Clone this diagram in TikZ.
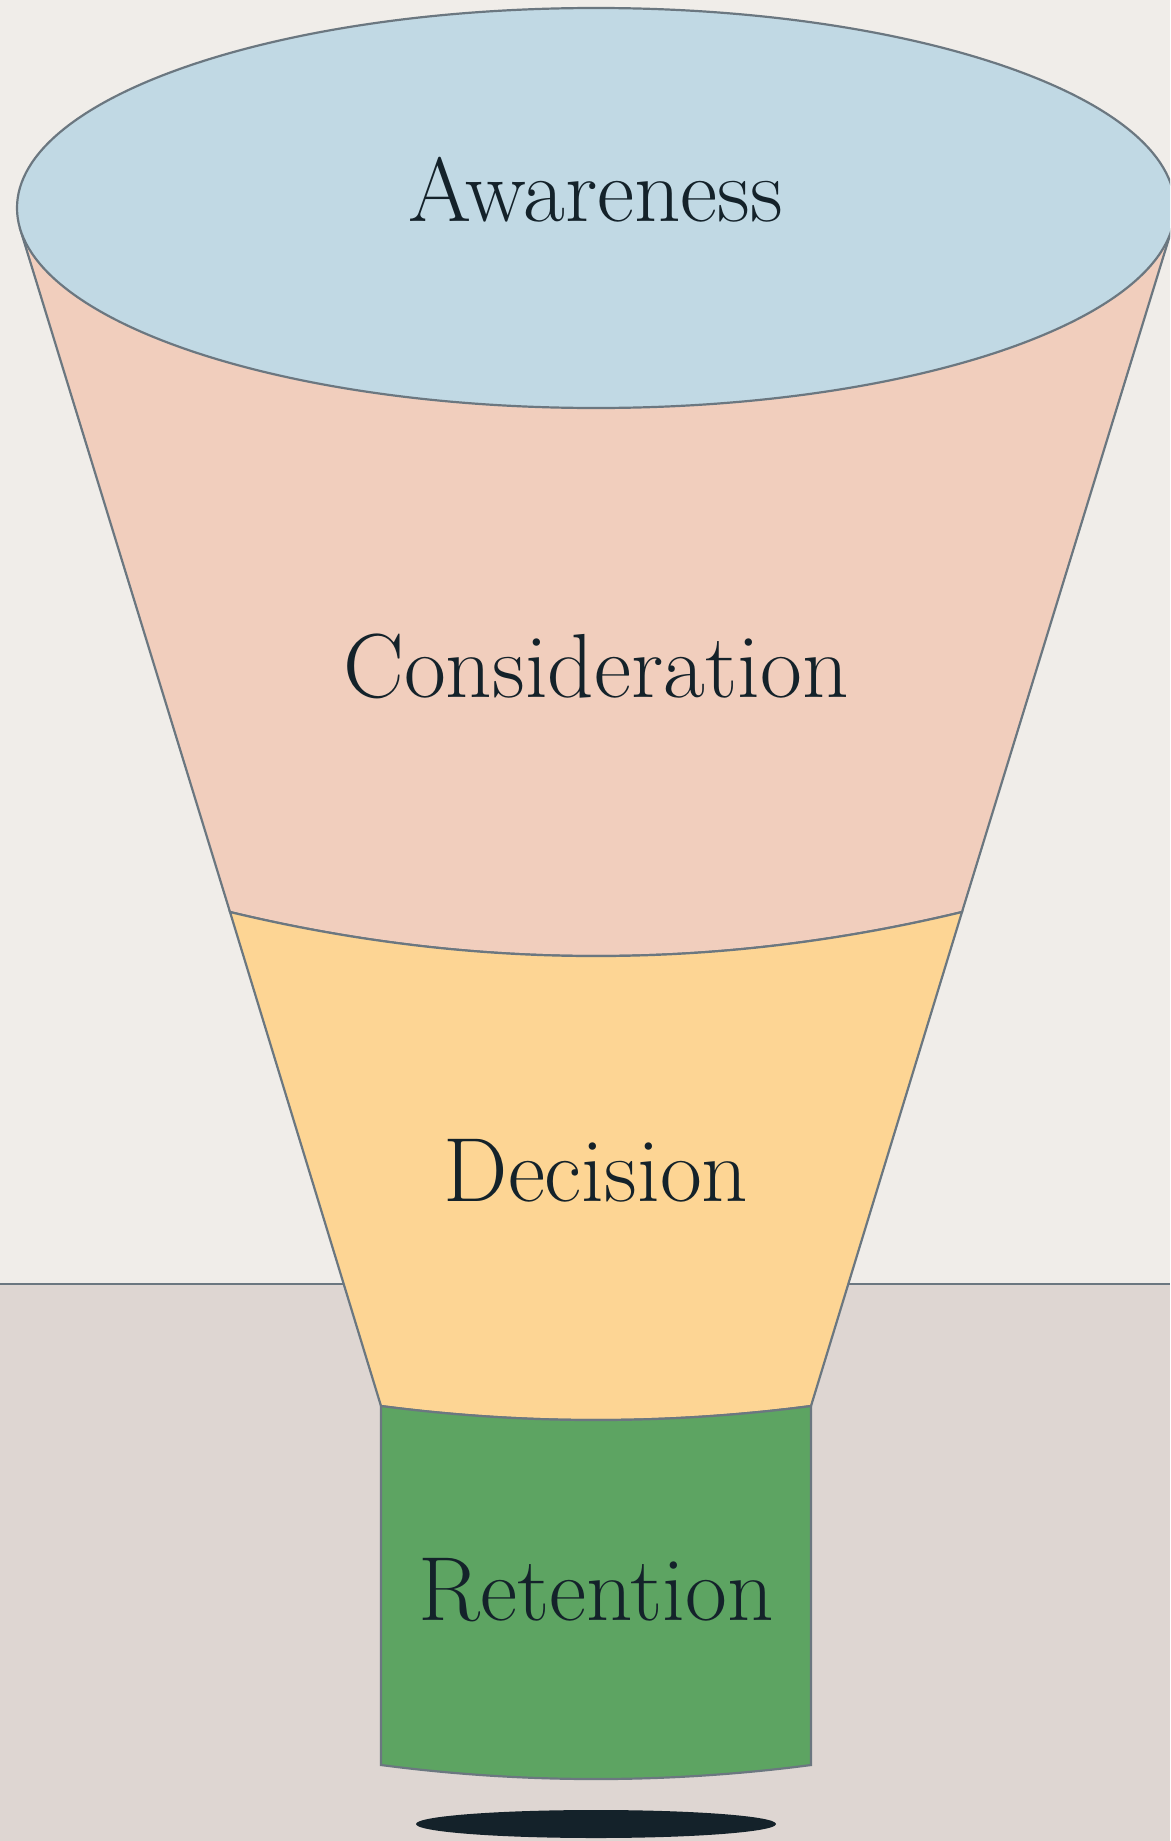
\documentclass[tikz,border=0pt]{standalone}
\usepackage{fontspec}
\definecolor{bgtop}{HTML}{F0EDE9}
\definecolor{bgbottom}{HTML}{DED6D2}
\definecolor{edge}{HTML}{6B7780}
\definecolor{awarefill}{HTML}{C1D9E4}
\definecolor{considfill}{HTML}{F1CEBD}
\definecolor{decisfill}{HTML}{FDD594}
\definecolor{retainfill}{HTML}{5DA462}
\definecolor{ink}{HTML}{14222A}
\begin{document}
\begin{tikzpicture}[x=1pt,y=-1pt,
  stage/.style={fill=#1,draw=edge,line width=2.2pt,line join=miter},
  label/.style={anchor=base,text=ink,inner sep=0pt,font=\fontsize{91}{91}\selectfont}]
\useasboundingbox (0,0) rectangle (1170,1841);
\clip (0,0) rectangle (1170,1841);
% backdrop: wall and floor
\fill[bgtop] (0,0) rectangle (1170,1284);
\fill[bgbottom] (0,1284) rectangle (1170,1841);
\coordinate (hl) at (0,1284);
\coordinate (hr) at (1170,1284);
\draw[edge,line width=2.2pt] (hl) -- (hr);
% funnel outline points
\coordinate (TL) at (20.2,229.1);
\coordinate (TR) at (1171.8,229.1);
\coordinate (L1) at (230,912);
\coordinate (R1) at (962,912);
\coordinate (L2) at (381,1406);
\coordinate (R2) at (811,1406);
\coordinate (L3) at (381,1765);
\coordinate (R3) at (811,1765);
% shadow under the funnel
\fill[ink] (596,1824) ellipse[x radius=180,y radius=14];
% consideration band
\path[stage=considfill] (TL) -- (L1)
  .. controls (474,970.7) and (718,970.7) .. (R1) -- (TR) -- cycle;
% decision band
\path[stage=decisfill] (L1) -- (L2)
  .. controls (524.3,1424.7) and (667.7,1424.7) .. (R2) -- (R1)
  .. controls (718,970.7) and (474,970.7) .. cycle;
% retention cylinder
\path[stage=retainfill] (L2) -- (L3)
  .. controls (524.3,1783.7) and (667.7,1783.7) .. (R3) -- (R2)
  .. controls (667.7,1424.7) and (524.3,1424.7) .. cycle;
% awareness rim
\path[stage=awarefill] (596,208) ellipse[x radius=579,y radius=200];
% stage labels
\node[label] (aware) at (596,221) {Awareness};
\node[label] (consid) at (596,697) {Consideration};
\node[label] (decis) at (596,1201) {Decision};
\node[label] (retain) at (596,1620) {Retention};
\end{tikzpicture}
\end{document}
